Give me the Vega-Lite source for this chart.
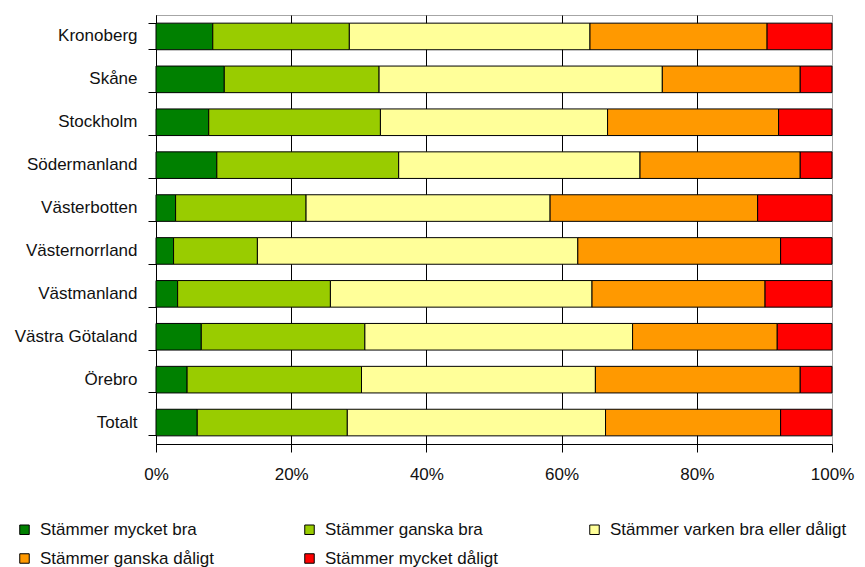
{
  "$schema": "https://vega.github.io/schema/vega-lite/v6.json",
  "width": 676,
  "height": 429,
  "autosize": {"type": "none"},
  "padding": {"left": 156, "top": 15, "right": 33, "bottom": 123},
  "background": "white",
  "config": {
    "font": "Liberation Sans",
    "view": {"stroke": "#a6a6a6", "strokeWidth": 1},
    "axis": {"labelFont": "Liberation Sans", "labelFontSize": 17, "labelColor": "#111111"},
    "legend": {"labelFont": "Liberation Sans", "labelFontSize": 17, "labelColor": "#111111"}
  },
  "data": {
    "values": [
      {"region": "Kronoberg", "svar": "Stämmer mycket bra", "ord": 1, "andel": 8.4},
      {"region": "Kronoberg", "svar": "Stämmer ganska bra", "ord": 2, "andel": 20.2},
      {"region": "Kronoberg", "svar": "Stämmer varken bra eller dåligt", "ord": 3, "andel": 35.6},
      {"region": "Kronoberg", "svar": "Stämmer ganska dåligt", "ord": 4, "andel": 26.2},
      {"region": "Kronoberg", "svar": "Stämmer mycket dåligt", "ord": 5, "andel": 9.6},

      {"region": "Skåne", "svar": "Stämmer mycket bra", "ord": 1, "andel": 10.1},
      {"region": "Skåne", "svar": "Stämmer ganska bra", "ord": 2, "andel": 22.9},
      {"region": "Skåne", "svar": "Stämmer varken bra eller dåligt", "ord": 3, "andel": 41.9},
      {"region": "Skåne", "svar": "Stämmer ganska dåligt", "ord": 4, "andel": 20.4},
      {"region": "Skåne", "svar": "Stämmer mycket dåligt", "ord": 5, "andel": 4.7},

      {"region": "Stockholm", "svar": "Stämmer mycket bra", "ord": 1, "andel": 7.8},
      {"region": "Stockholm", "svar": "Stämmer ganska bra", "ord": 2, "andel": 25.4},
      {"region": "Stockholm", "svar": "Stämmer varken bra eller dåligt", "ord": 3, "andel": 33.6},
      {"region": "Stockholm", "svar": "Stämmer ganska dåligt", "ord": 4, "andel": 25.3},
      {"region": "Stockholm", "svar": "Stämmer mycket dåligt", "ord": 5, "andel": 7.9},

      {"region": "Södermanland", "svar": "Stämmer mycket bra", "ord": 1, "andel": 9.0},
      {"region": "Södermanland", "svar": "Stämmer ganska bra", "ord": 2, "andel": 26.9},
      {"region": "Södermanland", "svar": "Stämmer varken bra eller dåligt", "ord": 3, "andel": 35.7},
      {"region": "Södermanland", "svar": "Stämmer ganska dåligt", "ord": 4, "andel": 23.7},
      {"region": "Södermanland", "svar": "Stämmer mycket dåligt", "ord": 5, "andel": 4.7},

      {"region": "Västerbotten", "svar": "Stämmer mycket bra", "ord": 1, "andel": 2.9},
      {"region": "Västerbotten", "svar": "Stämmer ganska bra", "ord": 2, "andel": 19.3},
      {"region": "Västerbotten", "svar": "Stämmer varken bra eller dåligt", "ord": 3, "andel": 36.1},
      {"region": "Västerbotten", "svar": "Stämmer ganska dåligt", "ord": 4, "andel": 30.7},
      {"region": "Västerbotten", "svar": "Stämmer mycket dåligt", "ord": 5, "andel": 11.0},

      {"region": "Västernorrland", "svar": "Stämmer mycket bra", "ord": 1, "andel": 2.6},
      {"region": "Västernorrland", "svar": "Stämmer ganska bra", "ord": 2, "andel": 12.4},
      {"region": "Västernorrland", "svar": "Stämmer varken bra eller dåligt", "ord": 3, "andel": 47.4},
      {"region": "Västernorrland", "svar": "Stämmer ganska dåligt", "ord": 4, "andel": 30.0},
      {"region": "Västernorrland", "svar": "Stämmer mycket dåligt", "ord": 5, "andel": 7.6},

      {"region": "Västmanland", "svar": "Stämmer mycket bra", "ord": 1, "andel": 3.2},
      {"region": "Västmanland", "svar": "Stämmer ganska bra", "ord": 2, "andel": 22.6},
      {"region": "Västmanland", "svar": "Stämmer varken bra eller dåligt", "ord": 3, "andel": 38.7},
      {"region": "Västmanland", "svar": "Stämmer ganska dåligt", "ord": 4, "andel": 25.6},
      {"region": "Västmanland", "svar": "Stämmer mycket dåligt", "ord": 5, "andel": 9.9},

      {"region": "Västra Götaland", "svar": "Stämmer mycket bra", "ord": 1, "andel": 6.7},
      {"region": "Västra Götaland", "svar": "Stämmer ganska bra", "ord": 2, "andel": 24.2},
      {"region": "Västra Götaland", "svar": "Stämmer varken bra eller dåligt", "ord": 3, "andel": 39.6},
      {"region": "Västra Götaland", "svar": "Stämmer ganska dåligt", "ord": 4, "andel": 21.4},
      {"region": "Västra Götaland", "svar": "Stämmer mycket dåligt", "ord": 5, "andel": 8.1},

      {"region": "Örebro", "svar": "Stämmer mycket bra", "ord": 1, "andel": 4.6},
      {"region": "Örebro", "svar": "Stämmer ganska bra", "ord": 2, "andel": 25.8},
      {"region": "Örebro", "svar": "Stämmer varken bra eller dåligt", "ord": 3, "andel": 34.6},
      {"region": "Örebro", "svar": "Stämmer ganska dåligt", "ord": 4, "andel": 30.3},
      {"region": "Örebro", "svar": "Stämmer mycket dåligt", "ord": 5, "andel": 4.7},

      {"region": "Totalt", "svar": "Stämmer mycket bra", "ord": 1, "andel": 6.1},
      {"region": "Totalt", "svar": "Stämmer ganska bra", "ord": 2, "andel": 22.2},
      {"region": "Totalt", "svar": "Stämmer varken bra eller dåligt", "ord": 3, "andel": 38.2},
      {"region": "Totalt", "svar": "Stämmer ganska dåligt", "ord": 4, "andel": 25.9},
      {"region": "Totalt", "svar": "Stämmer mycket dåligt", "ord": 5, "andel": 7.6}
    ]
  },
  "mark": {"type": "bar", "stroke": "#000000", "strokeWidth": 1},
  "encoding": {
    "y": {
      "field": "region",
      "type": "nominal",
      "sort": null,
      "scale": {"paddingInner": 0.38, "paddingOuter": 0.19},
      "axis": {
        "title": null,
        "domainColor": "#000000",
        "tickColor": "#000000",
        "tickSize": 8,
        "bandPosition": 1,
        "tickExtra": true,
        "labelPadding": 11
      }
    },
    "x": {
      "field": "andel",
      "type": "quantitative",
      "stack": "normalize",
      "scale": {"domain": [0, 1], "nice": false},
      "axis": {
        "title": null,
        "format": ".0%",
        "values": [0, 0.2, 0.4, 0.6, 0.8, 1],
        "labelFlush": false,
        "grid": true,
        "gridColor": {"condition": {"test": "datum.value >= 1", "value": "#a6a6a6"}, "value": "#000000"},
        "gridWidth": 1,
        "domainColor": "#000000",
        "tickColor": "#000000",
        "tickSize": 8,
        "labelPadding": 14
      }
    },
    "order": {"field": "ord", "type": "quantitative"},
    "color": {
      "field": "svar",
      "type": "nominal",
      "scale": {
        "domain": [
          "Stämmer mycket bra",
          "Stämmer ganska bra",
          "Stämmer varken bra eller dåligt",
          "Stämmer ganska dåligt",
          "Stämmer mycket dåligt"
        ],
        "range": ["#008000", "#99cc00", "#ffff99", "#ff9900", "#ff0000"]
      },
      "legend": {
        "title": null,
        "orient": "none",
        "legendX": -140,
        "legendY": 506,
        "direction": "horizontal",
        "columns": 3,
        "gridAlign": "all",
        "columnPadding": 24,
        "rowPadding": 11,
        "padding": 0,
        "symbolType": "square",
        "symbolSize": 90,
        "symbolStrokeColor": "#000000",
        "symbolStrokeWidth": 1,
        "symbolOpacity": 1,
        "labelOffset": 7,
        "labelLimit": 400
      }
    }
  }
}
